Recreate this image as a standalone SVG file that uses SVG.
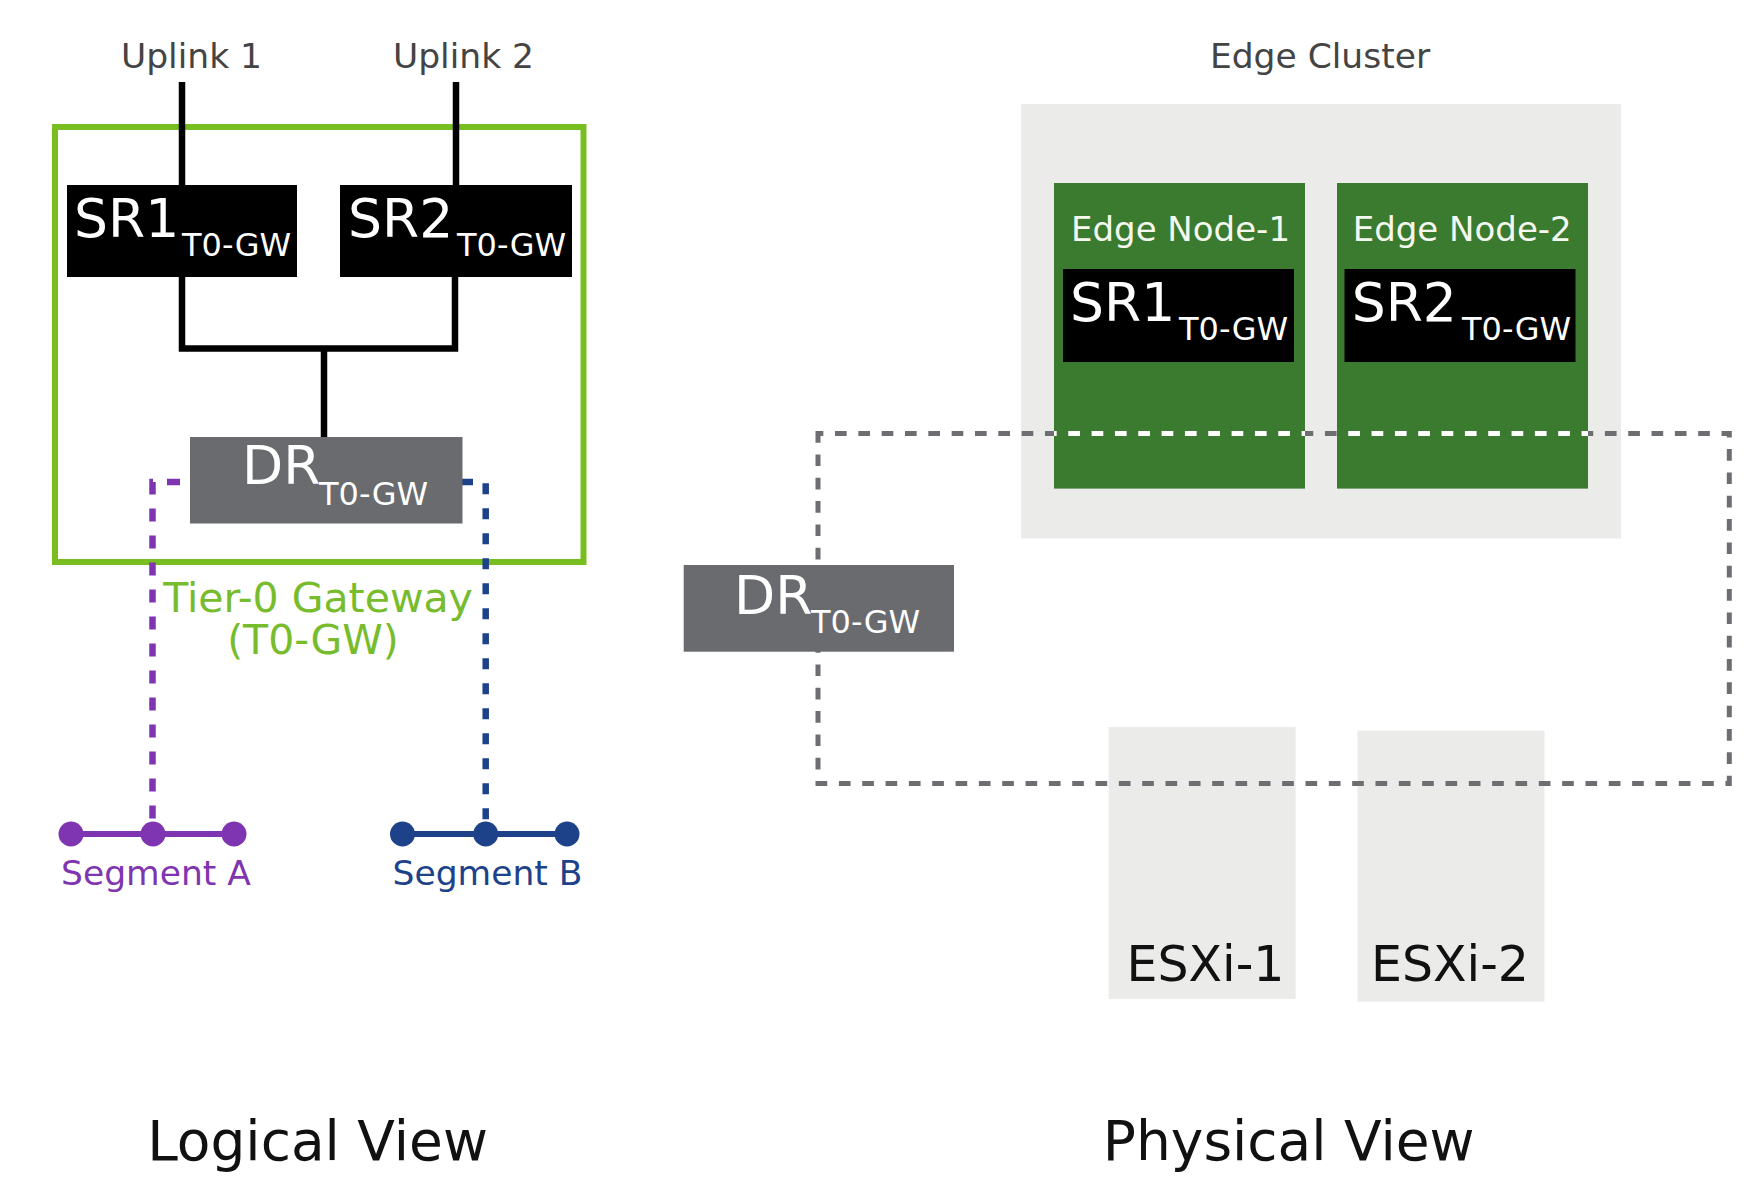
<svg xmlns="http://www.w3.org/2000/svg" width="1748" height="1202" viewBox="0 0 1748 1202">
<style>
text{font-family:"DejaVu Sans","Verdana","Liberation Sans",sans-serif}
.lbl{fill:#444;font-size:34.5px}
.big{fill:#fff;font-size:53.5px}
.sub{fill:#fff;font-size:32px}
.sr{fill:#000}
.dr{fill:#696b6e}
.light{fill:#ebebea}
.node{fill:#3b7b2f}
.wire{fill:none;stroke:#000;stroke-width:6.5}
.ring{fill:none;stroke:#6d6e71;stroke-width:5;stroke-dasharray:11.67 11.66;stroke-dashoffset:6.33}
.ringw{fill:none;stroke:#fff;stroke-width:5;stroke-dasharray:11.67 11.66;stroke-dashoffset:6.33}
.title{fill:#111;font-size:55px}
</style>
<defs>
<clipPath id="greenclip">
<rect x="1054" y="183" width="251" height="306"/>
<rect x="1337" y="183" width="251" height="306"/>
</clipPath>
</defs>
<rect width="1748" height="1202" fill="#fff"/>

<!-- Logical view -->
<g id="uplink1-label"><text class="lbl" x="191.5" y="68" text-anchor="middle">Uplink 1</text></g>
<g id="uplink2-label"><text class="lbl" x="463.5" y="68" text-anchor="middle">Uplink 2</text></g>

<g id="t0-gw">
<rect x="55" y="127" width="528.5" height="435" fill="none" stroke="#78be20" stroke-width="6"/>
<text x="318" y="612" font-size="41" fill="#77bc2d" text-anchor="middle">Tier-0 Gateway</text>
<text x="313" y="654" font-size="41" fill="#77bc2d" text-anchor="middle">(T0-GW)</text>
</g>

<g id="connectors">
<path class="wire" d="M182,82 V185"/>
<path class="wire" d="M456,82 V185"/>
<path class="wire" d="M182,277 V348.5 H455 V277"/>
<path class="wire" d="M324,348.5 V437"/>
<path d="M180,482 H152.5 V834" fill="none" stroke="#7f35b1" stroke-width="6.5" stroke-dasharray="13 14"/>
<path d="M462,482 H485.7 V834" fill="none" stroke="#1d428a" stroke-width="6.5" stroke-dasharray="11 14"/>
</g>

<g id="sr1-logical">
<rect class="sr" x="67" y="185" width="230" height="92"/>
<text class="big" x="74" y="237">SR1</text>
<text class="sub" x="182" y="256">T0-GW</text>
</g>
<g id="sr2-logical">
<rect class="sr" x="340" y="185" width="232" height="92"/>
<text class="big" x="348" y="237">SR2</text>
<text class="sub" x="457" y="256">T0-GW</text>
</g>
<g id="dr-logical">
<rect class="dr" x="190" y="437" width="272.5" height="86.5"/>
<text class="big" x="242" y="484">DR</text>
<text class="sub" x="319" y="505">T0-GW</text>
</g>

<g id="segment-a">
<path d="M71,834 H234" stroke="#7f35b1" stroke-width="6"/>
<circle cx="71" cy="834" r="12.5" fill="#7f35b1"/>
<circle cx="153" cy="834" r="12.5" fill="#7f35b1"/>
<circle cx="234" cy="834" r="12.5" fill="#7f35b1"/>
<text x="156" y="885" font-size="34.5" fill="#7f35b1" text-anchor="middle">Segment A</text>
</g>
<g id="segment-b">
<path d="M402.5,834 H567" stroke="#1d428a" stroke-width="6"/>
<circle cx="402.5" cy="834" r="12.5" fill="#1d428a"/>
<circle cx="485.7" cy="834" r="12.5" fill="#1d428a"/>
<circle cx="567" cy="834" r="12.5" fill="#1d428a"/>
<text x="487.5" y="885" font-size="34.5" fill="#1d428a" text-anchor="middle">Segment B</text>
</g>

<!-- Physical view -->
<g id="edge-cluster">
<text class="lbl" x="1320" y="67.5" text-anchor="middle">Edge Cluster</text>
<rect class="light" x="1021" y="104" width="600" height="434.5"/>
</g>
<g id="edge-node-1">
<rect class="node" x="1054" y="183" width="251" height="305.6"/>
<text x="1071" y="241" font-size="34" fill="#f4f8ef">Edge Node-1</text>
<rect class="sr" x="1063" y="269" width="231" height="93"/>
<text class="big" x="1070" y="321">SR1</text>
<text class="sub" x="1179" y="340">T0-GW</text>
</g>
<g id="edge-node-2">
<rect class="node" x="1337" y="183" width="251" height="305.6"/>
<text x="1352.7" y="241" font-size="34" fill="#f4f8ef">Edge Node-2</text>
<rect class="sr" x="1344.5" y="269" width="231" height="93"/>
<text class="big" x="1351.7" y="321">SR2</text>
<text class="sub" x="1462" y="340">T0-GW</text>
</g>
<g id="esxi-1">
<rect class="light" x="1108.6" y="727" width="187" height="272"/>
<text x="1205.5" y="981" font-size="49" fill="#111" text-anchor="middle">ESXi-1</text>
</g>
<g id="esxi-2">
<rect class="light" x="1357.5" y="730.7" width="187" height="271"/>
<text x="1450" y="981" font-size="49" fill="#111" text-anchor="middle">ESXi-2</text>
</g>

<g id="transport-connectors">
<path class="ring" d="M818,433.5 H1729.3 V783.5 H818 Z"/>
<path class="ringw" d="M818,433.5 H1729.3" clip-path="url(#greenclip)"/>
</g>

<g id="dr-physical">
<rect class="dr" x="683.7" y="565" width="270.3" height="86.7"/>
<text class="big" x="734" y="614">DR</text>
<text class="sub" x="811" y="633">T0-GW</text>
</g>

<g id="titles">
<text class="title" x="317.5" y="1160" text-anchor="middle">Logical View</text>
<text class="title" x="1288.7" y="1160" text-anchor="middle">Physical View</text>
</g>
</svg>
